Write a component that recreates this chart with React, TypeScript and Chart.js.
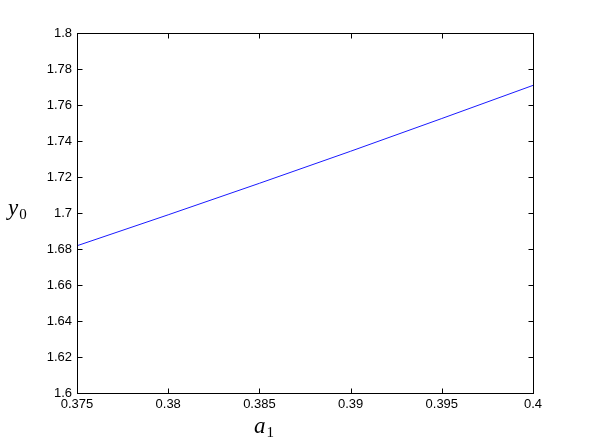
import React, { useEffect, useRef } from "react";
import { Chart, registerables } from "chart.js";

Chart.register(...registerables);

const a1Values = [0.375, 0.38, 0.385, 0.39, 0.395, 0.4];
const y0Values = [1.6818, 1.699, 1.7165, 1.7343, 1.7525, 1.7709];

const xTickMin = 0.375;
const xTickMax = 0.4;
const xTickStep = 0.005;
const yTickMin = 1.6;
const yTickMax = 1.8;
const yTickStep = 0.02;

const xLabelMain = "a";
const xLabelSub = "1";
const yLabelMain = "y";
const yLabelSub = "0";

const fmt = (v: number) => String(parseFloat(v.toFixed(4)));

const drawSubLabel = (
  ctx: CanvasRenderingContext2D,
  main: string,
  sub: string,
  x: number,
  baseline: number
) => {
  ctx.font = "italic 23px 'Liberation Serif', 'DejaVu Serif', serif";
  ctx.fillText(main, x, baseline);
  const w = ctx.measureText(main).width;
  ctx.font = "15px 'Liberation Serif', 'DejaVu Serif', serif";
  ctx.fillText(sub, x + w + 1, baseline + 4);
};

const framePlugin = {
  id: "frame",
  afterDraw(chart: any) {
    const ctx = chart.ctx as CanvasRenderingContext2D;
    const { left, right, top, bottom } = chart.chartArea;
    const xs = chart.scales.x;
    const ys = chart.scales.y;
    const L = Math.round(left) + 0.5;
    const R = Math.round(right) + 0.5;
    const T = Math.round(top) + 0.5;
    const B = Math.round(bottom) + 0.5;
    ctx.save();
    ctx.strokeStyle = "#000";
    ctx.lineWidth = 1;
    ctx.strokeRect(L, T, R - L, B - T);
    const tl = 5;
    ctx.beginPath();
    xs.ticks.forEach((t: any) => {
      const p = Math.round(xs.getPixelForValue(t.value)) + 0.5;
      ctx.moveTo(p, B);
      ctx.lineTo(p, B - tl);
      ctx.moveTo(p, T);
      ctx.lineTo(p, T + tl);
    });
    ys.ticks.forEach((t: any) => {
      const p = Math.round(ys.getPixelForValue(t.value)) + 0.5;
      ctx.moveTo(L, p);
      ctx.lineTo(L + tl, p);
      ctx.moveTo(R, p);
      ctx.lineTo(R - tl, p);
    });
    ctx.stroke();

    ctx.fillStyle = "#000";
    ctx.textAlign = "left";
    ctx.textBaseline = "alphabetic";
    drawSubLabel(ctx, yLabelMain, yLabelSub, 8, 215);
    drawSubLabel(ctx, xLabelMain, xLabelSub, 254, 433);
    ctx.restore();
  },
};

export default function App() {
  const canvasRef = useRef<HTMLCanvasElement | null>(null);

  useEffect(() => {
    document.body.style.margin = "0";
    const canvas = canvasRef.current;
    if (!canvas) return;
    const tickFont = { family: "'Liberation Sans', Arial, sans-serif", size: 13 };
    const chart = new Chart(canvas, {
      type: "line",
      data: {
        datasets: [
          {
            data: a1Values.map((x, i) => ({ x, y: y0Values[i] })),
            borderColor: "#1a1aff",
            borderWidth: 1,
            pointRadius: 0,
            fill: false,
            tension: 0,
          },
        ],
      },
      options: {
        animation: false,
        responsive: false,
        maintainAspectRatio: false,
        layout: { padding: { left: 0, top: 33, right: 56, bottom: 0 } },
        plugins: { legend: { display: false }, tooltip: { enabled: false } },
        scales: {
          x: {
            type: "linear",
            min: xTickMin,
            max: xTickMax,
            grid: { display: false, drawTicks: false },
            border: { display: false },
            ticks: {
              stepSize: xTickStep,
              color: "#000",
              font: tickFont,
              padding: 4,
              maxRotation: 0,
              autoSkip: false,
              callback: (v: any) => fmt(Number(v)),
            },
            afterFit: (s: any) => {
              s.height = 50;
            },
          },
          y: {
            type: "linear",
            min: yTickMin,
            max: yTickMax,
            grid: { display: false, drawTicks: false },
            border: { display: false },
            ticks: {
              stepSize: yTickStep,
              color: "#000",
              font: tickFont,
              padding: 5,
              autoSkip: false,
              callback: (v: any) => fmt(Number(v)),
            },
            afterFit: (s: any) => {
              s.width = 77;
            },
          },
        },
      },
      plugins: [framePlugin],
    } as any);
    return () => chart.destroy();
  }, []);

  return (
    <div style={{ width: 589, height: 443, background: "#fff" }}>
      <canvas ref={canvasRef} width={589} height={443} style={{ display: "block" }} />
    </div>
  );
}
